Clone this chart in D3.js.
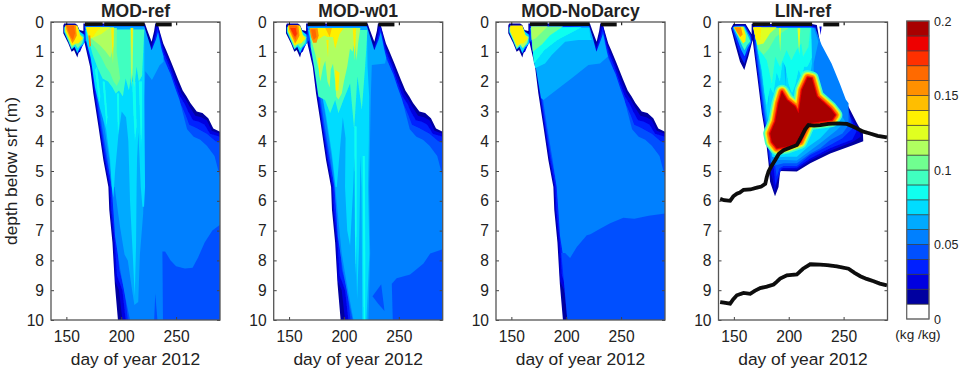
<!DOCTYPE html>
<html>
<head>
<meta charset="utf-8">
<script src="https://cdn.jsdelivr.net/npm/d3@7"></script>
<style>
html, body { margin: 0; background: #fff; }
text { font-family: "Liberation Sans", Arial, sans-serif; fill: #222; }
</style>
</head>
<body>
<script>
var width = 964,
    height = 374;

// colour of each 0.01 band, from 0 to 0.2
var bandColors = ["#ffffff", "#0000a0", "#0000e0", "#0020ff", "#0050ff", "#0080ff", "#00aaff",
    "#00dcff", "#10ffef", "#40ffc0", "#70ff90", "#b0ff60", "#e0ff20", "#fff000", "#ffbe00",
    "#ff9000", "#ff6a00", "#ff3000", "#ee0000", "#a80000"];
var barTicks = [0, 0.05, 0.1, 0.15, 0.2];
var dayTicks = [150, 200, 250];
var depthTicks = [0, 1, 2, 3, 4, 5, 6, 7, 8, 9, 10];
var titles = ["MOD-ref", "MOD-w01", "MOD-NoDarcy", "LIN-ref"];

// outlines below are [day, depth]
// edges shared by the three MOD runs
var modEdge01 = [[147.2,.12],[148,.05],[158,.05],[160,.1],[162,.27],[165.5,.3],[165.5,.05],[221.6,.05],[224,.3],[227.7,.66],[230,.3],[231,.05],[233,.05],[238.3,.72],[241,.95],[246,1.39],[252,1.95],[256,2.3],[259.6,2.5],[263,2.72],[268.8,3],[274,3.05],[279.3,3.23],[283.9,3.57],[290,3.68],[290,10],[197,10],[194.2,8.8],[192,7.4],[189.1,6.3],[188.3,5.54],[183.7,4.63],[179.2,3.5],[174.6,2.4],[171.6,1.5],[166,.6],[161.8,.94],[160,1.19],[157,.94],[154.8,1],[151.8,.72],[147.2,.38]];
var modEdge02 = [[148.2,.12],[149,.1],[157.5,.1],[159.5,.18],[161.5,.33],[166,.38],[166.5,.1],[221,.1],[223,.4],[227.5,.85],[230.5,.4],[232,.1],[233.5,.12],[237.5,.75],[240,1],[245,1.45],[250.5,2],[255,2.4],[259,2.62],[262.5,2.85],[267.5,3.15],[273,3.2],[278,3.3],[282.5,3.65],[290,3.75],[290,10],[201,10],[198,9],[194.5,8.7],[192.8,7.3],[190,6.3],[189,5.5],[184.5,4.6],[180,3.5],[175.5,2.4],[172.3,1.5],[167,.6],[162.5,1],[160.3,1.05],[157.5,.82],[155,.88],[152.5,.62],[148.2,.34]];
var modEdge03 = [[149,.15],[157,.15],[159,.22],[161,.37],[166.5,.42],[167,.13],[220.5,.13],[223,.5],[227.5,1],[231,.5],[233,.2],[237,.8],[239,1.05],[244,1.5],[249,2.05],[253.5,2.5],[258,2.75],[261,3],[265.5,3.3],[271,3.35],[276,3.45],[281,3.75],[290,3.85],[290,10],[204,10],[201,9],[196,8.5],[194,7.3],[191,6.3],[190,5.5],[185.3,4.6],[180.7,3.5],[176.2,2.4],[173,1.5],[167.6,.6],[163,.9],[160.5,.95],[158,.72],[155.5,.78],[153,.55],[149,.3]];
var modEdge04 = [[150,.15],[156,.15],[158,.25],[160.5,.42],[167,.45],[168,.15],[220,.15],[222.5,.55],[227.5,1.1],[232,.6],[233.5,.3],[236.5,.85],[238,1.1],[242.5,1.55],[247,2.1],[251.5,2.55],[255.5,2.85],[258.5,3.1],[262,3.45],[268,3.55],[273,3.65],[278,3.75],[286,4],[290,4.05],[290,10],[206,10],[203,9],[198,8.3],[195.5,7],[193,6.2],[191.5,5.5],[186.5,4.6],[181.5,3.5],[177,2.4],[173.8,1.5],[168.3,.6],[163.5,.85],[161,.85],[158.5,.65],[156,.7],[153.5,.5],[150,.27]];
var modBulk05 = [[170,.2],[219,.2],[222,.6],[227.5,1.15],[232.5,.7],[234,.45],[236,.9],[237.5,1.15],[240,1.35],[245,1.75],[249,2.2],[253,2.6],[256.5,3.1],[260,3.6],[266,3.85],[272,3.95],[278,4.15],[285,4.5],[290,5.2],[290,10],[208,10],[203.5,9.2],[199,8.3],[194.4,7.2],[193,6.43],[191.3,5.54],[187.5,4.6],[182.5,3.5],[178,2.4],[175,1.5],[169.5,.6]];
var blob07 = [[148,.18],[160,.15],[162.5,.33],[165.8,.42],[166,.72],[162.5,.85],[160,1.05],[157.5,.83],[154.8,.92],[151.6,.64],[148,.34]];
var blob10 = [[148.6,.15],[160,.15],[163,.44],[165.8,.5],[164.5,.7],[160.5,.88],[158,.76],[155,.88],[151.8,.6],[148.6,.33]];
var blob13 = [[149,.12],[160,.12],[162.4,.44],[165,.55],[161,.72],[158.5,.72],[155,.8],[152.2,.55],[149,.3]];
var blob15 = [[149.5,.1],[158.5,.1],[159.5,.45],[157.5,.6],[155.5,.72],[153,.5],[150,.25]];
var blob16 = [[150.3,.12],[157,.12],[158,.38],[156,.6],[154,.5],[151.2,.25]];
var blob17 = [[151,.2],[156,.2],[157,.4],[155.5,.5],[154,.42],[152,.28]];

// MOD-ref
var ref06 = [[166.5,.15],[221,.15],[224,.5],[227.7,.95],[231.5,.6],[233.5,.35],[236.5,.9],[238.5,1.15],[238.5,1.33],[235,1.45],[228,1.95],[222,1.65],[221,2.5],[220.7,4],[220.7,5.54],[220,6.43],[217,7.8],[215.5,9.4],[212,9.5],[209.5,8.9],[206,8],[203,7.8],[199,6.9],[197.5,6.5],[194,5.54],[192.5,5.54],[189,4.6],[184.5,3.5],[180,2.4],[176.5,1.5],[171,.6]];
var ref07 = [[167.3,.27],[221,.27],[221,2.62],[221.7,5.54],[220.8,6.2],[219.3,6.2],[217.8,5.54],[216.6,4.5],[215.6,3.7],[214.4,4.6],[214,5.54],[213.5,7.5],[212.3,9.2],[210.5,7.8],[208,6],[207.4,5.2],[206.5,4],[204.4,3.2],[200.4,3],[197.4,3.8],[194.4,5],[192.8,5.9],[191.3,5.5],[189.8,4.6],[186.2,3.6],[180.7,2.9],[176.1,2.2],[172.2,1.2],[167.9,.6]];
var ref08a = [[176,1.6],[178,1.5],[181,2.5],[180,2.7]];
var ref08b = [[183,2],[185,2],[187.5,3.2],[186.5,3.5]];
var ref08c = [[196,2.4],[198,2.4],[198,3.4],[197,3.8]];
var ref08d = [[210,2],[213,2],[214,3.5],[212.5,4],[211,3]];
var ref08e = [[216,2],[219,2],[219,3.5],[218,4.2]];
var ref09 = [[168,.25],[221,.25],[220,1],[219,1.8],[216,2],[214,1.5],[212,2.2],[209.5,1.7],[207,2.3],[204,1.9],[201.5,2.5],[198,2.3],[195,2.4],[192,2.2],[188,2],[183,1.9],[178,1.5],[174,1.1],[170,.55]];
var ref10 = [[168,.2],[196,.2],[195.8,1],[199,1.9],[196,2.15],[193,2],[189.8,1.7],[186,1.5],[182,1.2],[177,.9],[172.5,.7],[169,.4]];
var ref11 = [[168,.18],[193.5,.18],[193.2,.8],[190,1.2],[186,1],[181,.8],[176,.65],[171,.5]];
var ref11b = [[208.5,.2],[211,.2],[210.5,1.5],[209.5,2.2],[208.8,1.5]];
var ref12 = [[168,.18],[190,.18],[182,.4],[176,.5],[172,.55]];
var ref13 = [[168,.18],[182,.18],[178,.3],[174,.5],[170.5,.5]];
var ref13b = [[208.8,.2],[210.5,.2],[209.8,1.2]];
var ref13c = [[190.8,.2],[193.2,.2],[192.5,1.4]];
var ref15 = [[170,.45],[171.8,.45],[172.5,.8],[171,.85]];
var refLow04 = [[238,10],[237.5,7.7],[240,7.7],[245,8],[250,8.2],[258,8.27],[265,8.25],[270,7.9],[276,7.4],[283,7],[290,6.8],[290,10]];
var refNotch04 = [[230,10],[231,9.1],[233,10]];

// MOD-w01
var w06 = [[166.5,.15],[221,.15],[224,.5],[227.7,.95],[231.5,.6],[233.5,.35],[236.5,.9],[238.5,1.2],[237.5,1.39],[225.4,1.44],[224.5,2.5],[224,3.5],[223,5.54],[223.9,7.77],[222.3,10],[208.7,10],[202.6,8.78],[198,7.77],[195,6.65],[192,5.54],[189,4.6],[184.5,3.5],[180,2.4],[176.5,1.5],[171,.6]];
var w07 = [[167.3,.27],[221,.27],[221.5,1.5],[223,2.5],[222.7,4],[222,5.54],[223.2,7.77],[220.5,10],[216.8,10],[216.5,8.5],[216.3,7],[216,5.54],[215,4.5],[214.5,6],[213.8,7.5],[212,9.3],[211,7.5],[210.5,5.54],[209.5,4.5],[208.5,5.5],[205.6,7.5],[203,7],[201,5.54],[201.5,3.9],[199,3.2],[196.5,4.2],[193.5,5.54],[192.5,5.54],[189,4.4],[184,3.2],[179,2.2],[175,1.3],[169,.55]];
var w08b = [[209.5,3.5],[211.5,3.5],[211.5,7],[210.7,8.5],[210,7]];
var w08c = [[217,4.5],[219,4.5],[219.5,8],[219.2,10],[218,10],[217.5,7.5]];
var w09 = [[169.1,.27],[221.4,.27],[219.3,1.5],[216.3,2.95],[212.3,1.83],[209.3,3.6],[205.6,2.06],[199.5,2.62],[195,3.06],[192,2.62],[187.4,3.06],[182.8,2.62],[176.7,2.5],[172.8,1.5],[169.7,.83]];
var w11 = [[169,.2],[215,.2],[213,.7],[211.5,1.3],[210,.6],[208,1],[205.5,.9],[203,1.5],[200,2],[198,2.4],[195,2.6],[193,2.5],[192,2],[190,1.4],[188,1.6],[187,2.2],[185,2],[183,1.3],[181,1.5],[178.5,2],[177,1.6],[174,1.1],[171,.7]];
var w13 = [[169,.2],[200,.2],[196,.4],[192,.9],[190,.5],[185,.5],[182,.45],[178,.55],[172,.65]];
var w13b = [[208,.21],[211,.21],[210,1.3]];
var w13c = [[192,1.6],[196,1.7],[195,2.3],[192.5,2.3]];
var w13d = [[176.5,1.2],[178.5,1.2],[178,1.9]];
var w13e = [[184,.6],[186,.6],[185.5,1.2]];
var w14 = [[183,.2],[189,.2],[187,.5]];
var w15 = [[168.5,.21],[176,.21],[177,.45],[175,.7],[172,.7],[170,.5]];
var w16 = [[170,.25],[174,.25],[175,.5],[172.5,.6],[171,.45]];
var wLow04 = [[244.5,10],[243.6,8.78],[248,8.6],[260.3,8.47],[272.5,8.1],[278.6,7.77],[290,7.63],[290,10]];
var wPocket04 = [[226,9.2],[234,8.8],[237,9.7],[231,9.45]];

// MOD-NoDarcy
var nd06 = [[167.5,.2],[221,.15],[224,.5],[227.5,1],[231.5,.6],[233.5,.4],[236,.85],[238,1.16],[230.8,1.39],[220.2,1.44],[205,1.89],[192.8,2.23],[179.2,2.62],[177,2.55],[173,1.7],[170,1]];
var nd07 = [[167.5,.2],[221,.2],[222,.5],[223.2,.6],[211,.6],[199,.66],[186.8,1.11],[180.7,1.39],[171.6,1.55],[168.5,.6]];
var nd08 = [[168,.18],[214,.18],[192,.6],[180,.95],[170.5,1.4]];
var nd10 = [[168,.15],[197,.15],[185,.45],[178,.75],[169.5,1]];
var nd11 = [[168,.15],[183,.15],[172,.55],[168.5,.6]];
var ndLow04 = [[195.5,7.75],[199,7.75],[203.5,7.92],[209.6,7.55],[218.7,7.16],[222,7.12],[230.8,6.94],[240,6.75],[252,6.57],[262,6.6],[275,6.5],[290,6.43],[290,10],[201,10]];

// LIN-ref
var linEdge01 = [[147.4,.21],[149.5,.07],[160.7,.07],[166.2,.4],[166.2,.07],[221,.07],[225.6,.1],[228.7,.72],[236.3,1.39],[243.9,2.06],[254.5,2.84],[262.2,3.4],[267.6,3.74],[267.9,4],[259,4.13],[237.8,4.41],[219.6,4.74],[207.4,5.02],[192.2,5],[190.7,5.54],[187.5,5.85],[184.6,5.54],[183,5.36],[181.6,4.74],[178.6,3.74],[175.5,3.06],[171,1.72],[167.1,.6],[163.2,1.16],[159.5,1.61],[155.6,1.33],[151,.72]];
var linEdge02 = [[168,.12],[220.5,.12],[224.5,.15],[227.7,.75],[235,1.42],[243,2.1],[253,2.88],[260.5,3.42],[265,3.75],[265.5,3.85],[258.5,4.02],[237.8,4.32],[219.6,4.65],[207.4,4.95],[192.2,4.97],[190,5.3],[187,5.7],[185.5,5.3],[184,5.1],[182.6,4.7],[179.5,3.7],[176.3,3.06],[171.8,1.72],[168.8,.83]];
var linEdge03 = [[168.5,.14],[220.3,.14],[224.2,.18],[227.2,.78],[234,1.42],[242,2.1],[252,2.88],[259,3.42],[261.7,3.68],[258,3.94],[237.8,4.24],[219.6,4.58],[207.4,4.89],[193.7,4.91],[190.7,5.19],[187.7,5.47],[186.2,4.85],[182.5,4.74],[179.5,3.74],[176.4,3.06],[172,1.72],[168.8,.83]];
var linEdge04 = [[169,.16],[220,.16],[224,.2],[229,.77],[237,1.39],[245,2.06],[253,2.75],[256,3.2],[258,3.57],[249,3.9],[237.8,4.13],[219.6,4.46],[207.4,4.83],[195.3,4.83],[191.6,4.91],[189,5.19],[187.7,4.85],[183.5,4.74],[180.3,3.74],[177.2,3.06],[172.7,1.72],[169.6,.83]];
var linBulk05 = [[169.5,.18],[220,.18],[224.2,.21],[230,.77],[239,1.39],[246.5,2.06],[252,2.6],[254.5,2.73],[254.5,3.46],[249,3.74],[237.8,3.96],[228.7,4.24],[219.6,4.41],[207.4,4.74],[195.3,4.74],[189,4.8],[184,4.74],[181,3.74],[178,3.06],[173.4,1.72],[170.4,.83]];
var lin06 = [[170,.19],[220.5,.19],[223,.21],[227,.66],[222.7,1.39],[222.7,1.95],[230,2.5],[240.4,2.84],[248,3.12],[251.4,3.34],[243.9,3.62],[228.7,4.07],[207.4,4.65],[196.8,4.63],[189,4.63],[184.5,4.5],[181.5,3.74],[178.8,3.06],[174.5,1.72],[171,.83]];
var lin07 = [[170.5,.21],[220,.21],[221.2,1.39],[220,1.67],[225,2.34],[234.3,2.73],[243.4,3],[247.5,3.23],[240,3.46],[228.7,3.9],[218,4.18],[207.4,4.52],[196.8,4.52],[189,4.55],[185,4.52],[183,3.74],[180,3.06],[175.5,1.72],[171.6,.83]];
var lin06a = [[180.5,1.6],[182,1.5],[181.5,2.9]];
var lin06b = [[196,1.4],[197.5,1.4],[197,2.2]];
var lin08 = [[168,.2],[220.5,.2],[221,1.2],[217,1.5],[214,1.5],[212,1.9],[209,1.6],[206,2.1],[203,2.4],[200,2.1],[197,1.5],[194.5,1.3],[192,2],[189,1.7],[186,2.4],[183,2.2],[180,2.8],[178,2.4],[175.5,1.6],[172,1]];
var lin09 = [[167.9,.21],[219.6,.21],[218,.83],[213,1.16],[211.5,.72],[207,.94],[202.4,1.28],[198,.94],[192,1.5],[187.7,1.16],[184.6,2.06],[180,1.28],[175.5,1.05],[172.5,.94]];
var lin10 = [[168,.2],[200,.2],[188,.5],[182,.9],[177,1.1],[172.5,.9]];
var lin12 = [[167.3,.18],[189,.18],[183,.38],[177,.72],[171.5,.77]];
var lin12b = [[208,.21],[210.5,.21],[209.5,1.1]];
var lin12c = [[191,.2],[193,.2],[192.2,1]];
var lin13 = [[168,.18],[175,.18],[174,.6],[170,.6]];
var linDash = [[228,.15],[230,.15],[229,.44]];
var linBlob03 = [[148.2,.21],[150,.12],[160.3,.12],[165.8,.45],[166.3,.65],[163,1],[159.6,1.4],[156,1.15],[151.8,.65]];
var linBlob06 = [[149,.2],[150.5,.15],[159.8,.15],[165,.5],[165.6,.68],[162.5,.88],[159.8,1.15],[156.8,.95],[152.8,.55]];
var linBlob09 = [[149.5,.18],[151,.16],[159.2,.16],[164,.55],[165,.65],[162,.78],[159.8,.95],[157.5,.8],[154,.5]];
var linBlob13 = [[150,.17],[158.5,.16],[161,.45],[160.5,.65],[158.5,.72],[156,.58],[153,.38]];
var linBlob15 = [[150.3,.18],[156.5,.18],[158,.42],[155.8,.5],[152.5,.32]];
var linCore = [[183.1,3.74],[187.7,3.34],[190.7,2.73],[193.8,2.34],[198.3,2.62],[205.9,2.84],[209,3.06],[212,2.28],[217.2,1.86],[221,1.89],[225.7,2.5],[237.8,2.9],[242.4,3.12],[239.4,3.29],[218,3.4],[210.5,4.02],[198.3,4.18],[189.2,4.24],[184.6,4.02]];
// halo round the core: band and stroke width
var coreHalo = [[9, 14], [11, 11], [13, 9], [15, 7], [16, 5], [17, 3], [18, 2]];

// black lines in the LIN panel
var linUpperLine = [[137.5,5.93],[141,5.98],[146.6,6],[149.5,5.85],[152.7,5.76],[155.5,5.72],[158.8,5.63],[165,5.62],[171,5.56],[175,5.52],[178.6,5.43],[180,5.2],[181.6,5.02],[184,4.85],[187.7,4.63],[191,4.42],[195.3,4.3],[201,4.22],[207.4,4.13],[212,3.82],[215,3.6],[218,3.46],[223,3.48],[228.7,3.46],[236,3.42],[244,3.4],[253,3.42],[258,3.5],[262,3.57],[268,3.68],[274,3.74],[281,3.82],[289.5,3.87]];
var linLowerLine = [[137.5,9.4],[141,9.42],[146.6,9.45],[149.5,9.3],[152.7,9.17],[158.8,9.09],[164.9,9.12],[169,9.02],[174,8.93],[180,8.88],[186.2,8.81],[189,8.72],[192.2,8.61],[198.3,8.5],[207.4,8.47],[213,8.28],[219.6,8.13],[228.7,8.14],[235,8.16],[243.9,8.2],[254.5,8.28],[260,8.42],[265.2,8.53],[271,8.62],[277.4,8.7],[283,8.78],[289.5,8.84]];

// black marks along the top of every panel
var topMarks = [[[150,.04],[150.8,.04]], [[167,.07],[183,.06]], [[184.5,.07],[221.3,.07]], [[231.5,.08],[246,.08]], [[250,.04],[251,.04]]];

var refLayers = [[1,modEdge01],[2,modEdge02],[3,modEdge03],[4,modEdge04],[5,modBulk05],[6,ref06],[7,ref07],[8,ref08a],[8,ref08b],[8,ref08c],[8,ref08d],[8,ref08e],[9,ref09],[10,ref10],[11,ref11],[11,ref11b],[12,ref12],[13,ref13],[13,ref13b],[13,ref13c],[15,ref15],[4,refLow04],[4,refNotch04],[7,blob07],[10,blob10],[13,blob13],[15,blob15],[16,blob16]];
var w01Layers = [[1,modEdge01],[2,modEdge02],[3,modEdge03],[4,modEdge04],[5,modBulk05],[6,w06],[7,w07],[8,w08b],[8,w08c],[9,w09],[11,w11],[13,w13],[13,w13b],[13,w13c],[13,w13d],[13,w13e],[14,w14],[15,w15],[16,w16],[4,wLow04],[4,wPocket04],[7,blob07],[10,blob10],[13,blob13],[15,blob15],[16,blob16],[17,blob17]];
var ndLayers = [[1,modEdge01],[2,modEdge02],[3,modEdge03],[4,modEdge04],[5,modBulk05],[6,nd06],[7,nd07],[8,nd08],[10,nd10],[11,nd11],[4,ndLow04],[7,blob07],[11,blob10],[13,blob13]];
var linLayers = [[1,linEdge01],[2,linEdge02],[3,linEdge03],[4,linEdge04],[5,linBulk05],[6,lin06],[7,lin07],[6,lin06a],[6,lin06b],[8,lin08],[9,lin09],[10,lin10],[12,lin12],[12,lin12b],[12,lin12c],[13,lin13],[3,linBlob03],[6,linBlob06],[9,linBlob09],[13,linBlob13],[15,linBlob15],[2,linDash]];
var panelLayers = [refLayers, w01Layers, ndLayers, linLayers];

var panelLeft = [51, 273.7, 496, 718.5],
    panelWidth = 169,
    panelTop = 22,
    panelBottom = 320;

var svg = d3.select("body").append("svg")
    .attr("width", width)
    .attr("height", height)
    .style("display", "block");

var defs = svg.append("defs");
defs.append("filter").attr("id", "soft")
    .append("feGaussianBlur").attr("stdDeviation", 0.5);
defs.append("clipPath").attr("id", "plotclip")
    .append("rect")
    .attr("width", panelWidth)
    .attr("height", panelBottom - panelTop);

var x = d3.scaleLinear().domain([136, 290]).range([0, panelWidth]);
var y = d3.scaleLinear().domain([0, 10]).range([0, panelBottom - panelTop]);

var outline = d3.line()
    .x(function(d) { return x(d[0]); })
    .y(function(d) { return y(d[1]); });

var bandPath = function(d) { return outline(d) + "Z"; };

titles.forEach(function(title, i) {
    var g = svg.append("g")
        .attr("transform", "translate(" + panelLeft[i] + "," + panelTop + ")");

    var plot = g.append("g")
        .attr("clip-path", "url(#plotclip)")
        .append("g")
        .attr("filter", "url(#soft)");

    plot.selectAll("path.band")
        .data(panelLayers[i])
        .enter().append("path")
        .attr("class", "band")
        .attr("d", function(d) { return bandPath(d[1]); })
        .attr("fill", function(d) { return bandColors[d[0]]; });

    if (i == 3) {
        plot.selectAll("path.halo")
            .data(coreHalo)
            .enter().append("path")
            .attr("class", "halo")
            .attr("d", bandPath(linCore))
            .attr("fill", "none")
            .attr("stroke-linejoin", "round")
            .attr("stroke", function(d) { return bandColors[d[0]]; })
            .attr("stroke-width", function(d) { return d[1]; });

        plot.append("path")
            .attr("d", bandPath(linCore))
            .attr("fill", bandColors[19]);

        plot.selectAll("path.soil")
            .data([linUpperLine, linLowerLine])
            .enter().append("path")
            .attr("class", "soil")
            .attr("d", outline)
            .attr("fill", "none")
            .attr("stroke", "#0a0a0a")
            .attr("stroke-width", 3.8);
    }

    plot.selectAll("path.mark")
        .data(topMarks)
        .enter().append("path")
        .attr("class", "mark")
        .attr("d", outline)
        .attr("fill", "none")
        .attr("stroke", "#0a0a0a")
        .attr("stroke-width", 4);

    var xAxis = g.append("g")
        .attr("transform", "translate(0," + (panelBottom - panelTop) + ")")
        .call(d3.axisBottom(x).tickValues(dayTicks).tickSize(-3).tickPadding(11).tickSizeOuter(0));
    var yAxis = g.append("g")
        .call(d3.axisLeft(y).tickValues(depthTicks).tickSize(-3).tickPadding(7).tickFormat(d3.format("d")).tickSizeOuter(0));
    g.append("g")
        .attr("transform", "translate(" + panelWidth + ",0)")
        .call(d3.axisRight(y).tickValues(depthTicks).tickSize(-3).tickFormat("").tickSizeOuter(0));

    g.selectAll(".tick line").attr("stroke", "#444").attr("stroke-width", 1);
    g.selectAll(".domain").attr("stroke", "none");
    xAxis.selectAll("text").style("font-size", "15.6px").attr("fill", "#222");
    yAxis.selectAll("text").style("font-size", "15.6px").attr("fill", "#222");

    g.append("rect")
        .attr("width", panelWidth)
        .attr("height", panelBottom - panelTop)
        .attr("fill", "none")
        .attr("stroke", "#555")
        .attr("stroke-width", 1.3);

    g.append("text")
        .attr("x", panelWidth / 2)
        .attr("y", 17 - panelTop)
        .attr("text-anchor", "middle")
        .style("font-size", "17.5px")
        .style("font-weight", "bold")
        .text(title);

    g.append("text")
        .attr("x", panelWidth / 2)
        .attr("y", 365 - panelTop)
        .attr("text-anchor", "middle")
        .style("font-size", "17.4px")
        .text("day of year 2012");
});

svg.append("text")
    .attr("transform", "translate(17,171) rotate(-90)")
    .attr("text-anchor", "middle")
    .style("font-size", "17.3px")
    .text("depth below srf (m)");

// colour bar
var barX = 906.7,
    barWidth = 22.3;
var barScale = d3.scaleLinear().domain([0, 0.2]).range([319, 21]);

svg.selectAll("rect.swatch")
    .data(bandColors)
    .enter().append("rect")
    .attr("class", "swatch")
    .attr("x", barX)
    .attr("width", barWidth)
    .attr("y", function(d, i) { return barScale((i + 1) * 0.01); })
    .attr("height", barScale(0) - barScale(0.01))
    .attr("fill", function(d) { return d; })
    .attr("stroke", "#333")
    .attr("stroke-opacity", 0.75)
    .attr("stroke-width", 0.8);

svg.append("rect")
    .attr("x", barX)
    .attr("y", barScale(0.2))
    .attr("width", barWidth)
    .attr("height", barScale(0) - barScale(0.2))
    .attr("fill", "none")
    .attr("stroke", "#666")
    .attr("stroke-width", 1.1);

svg.selectAll("text.barlabel")
    .data(barTicks)
    .enter().append("text")
    .attr("class", "barlabel")
    .attr("x", 934)
    .attr("y", function(d) { return barScale(d) + 4.5; })
    .style("font-size", "12.5px")
    .text(function(d) { return d; });

svg.append("text")
    .attr("x", 918)
    .attr("y", 339)
    .attr("text-anchor", "middle")
    .style("font-size", "13.6px")
    .text("(kg /kg)");
</script>
</body>
</html>
